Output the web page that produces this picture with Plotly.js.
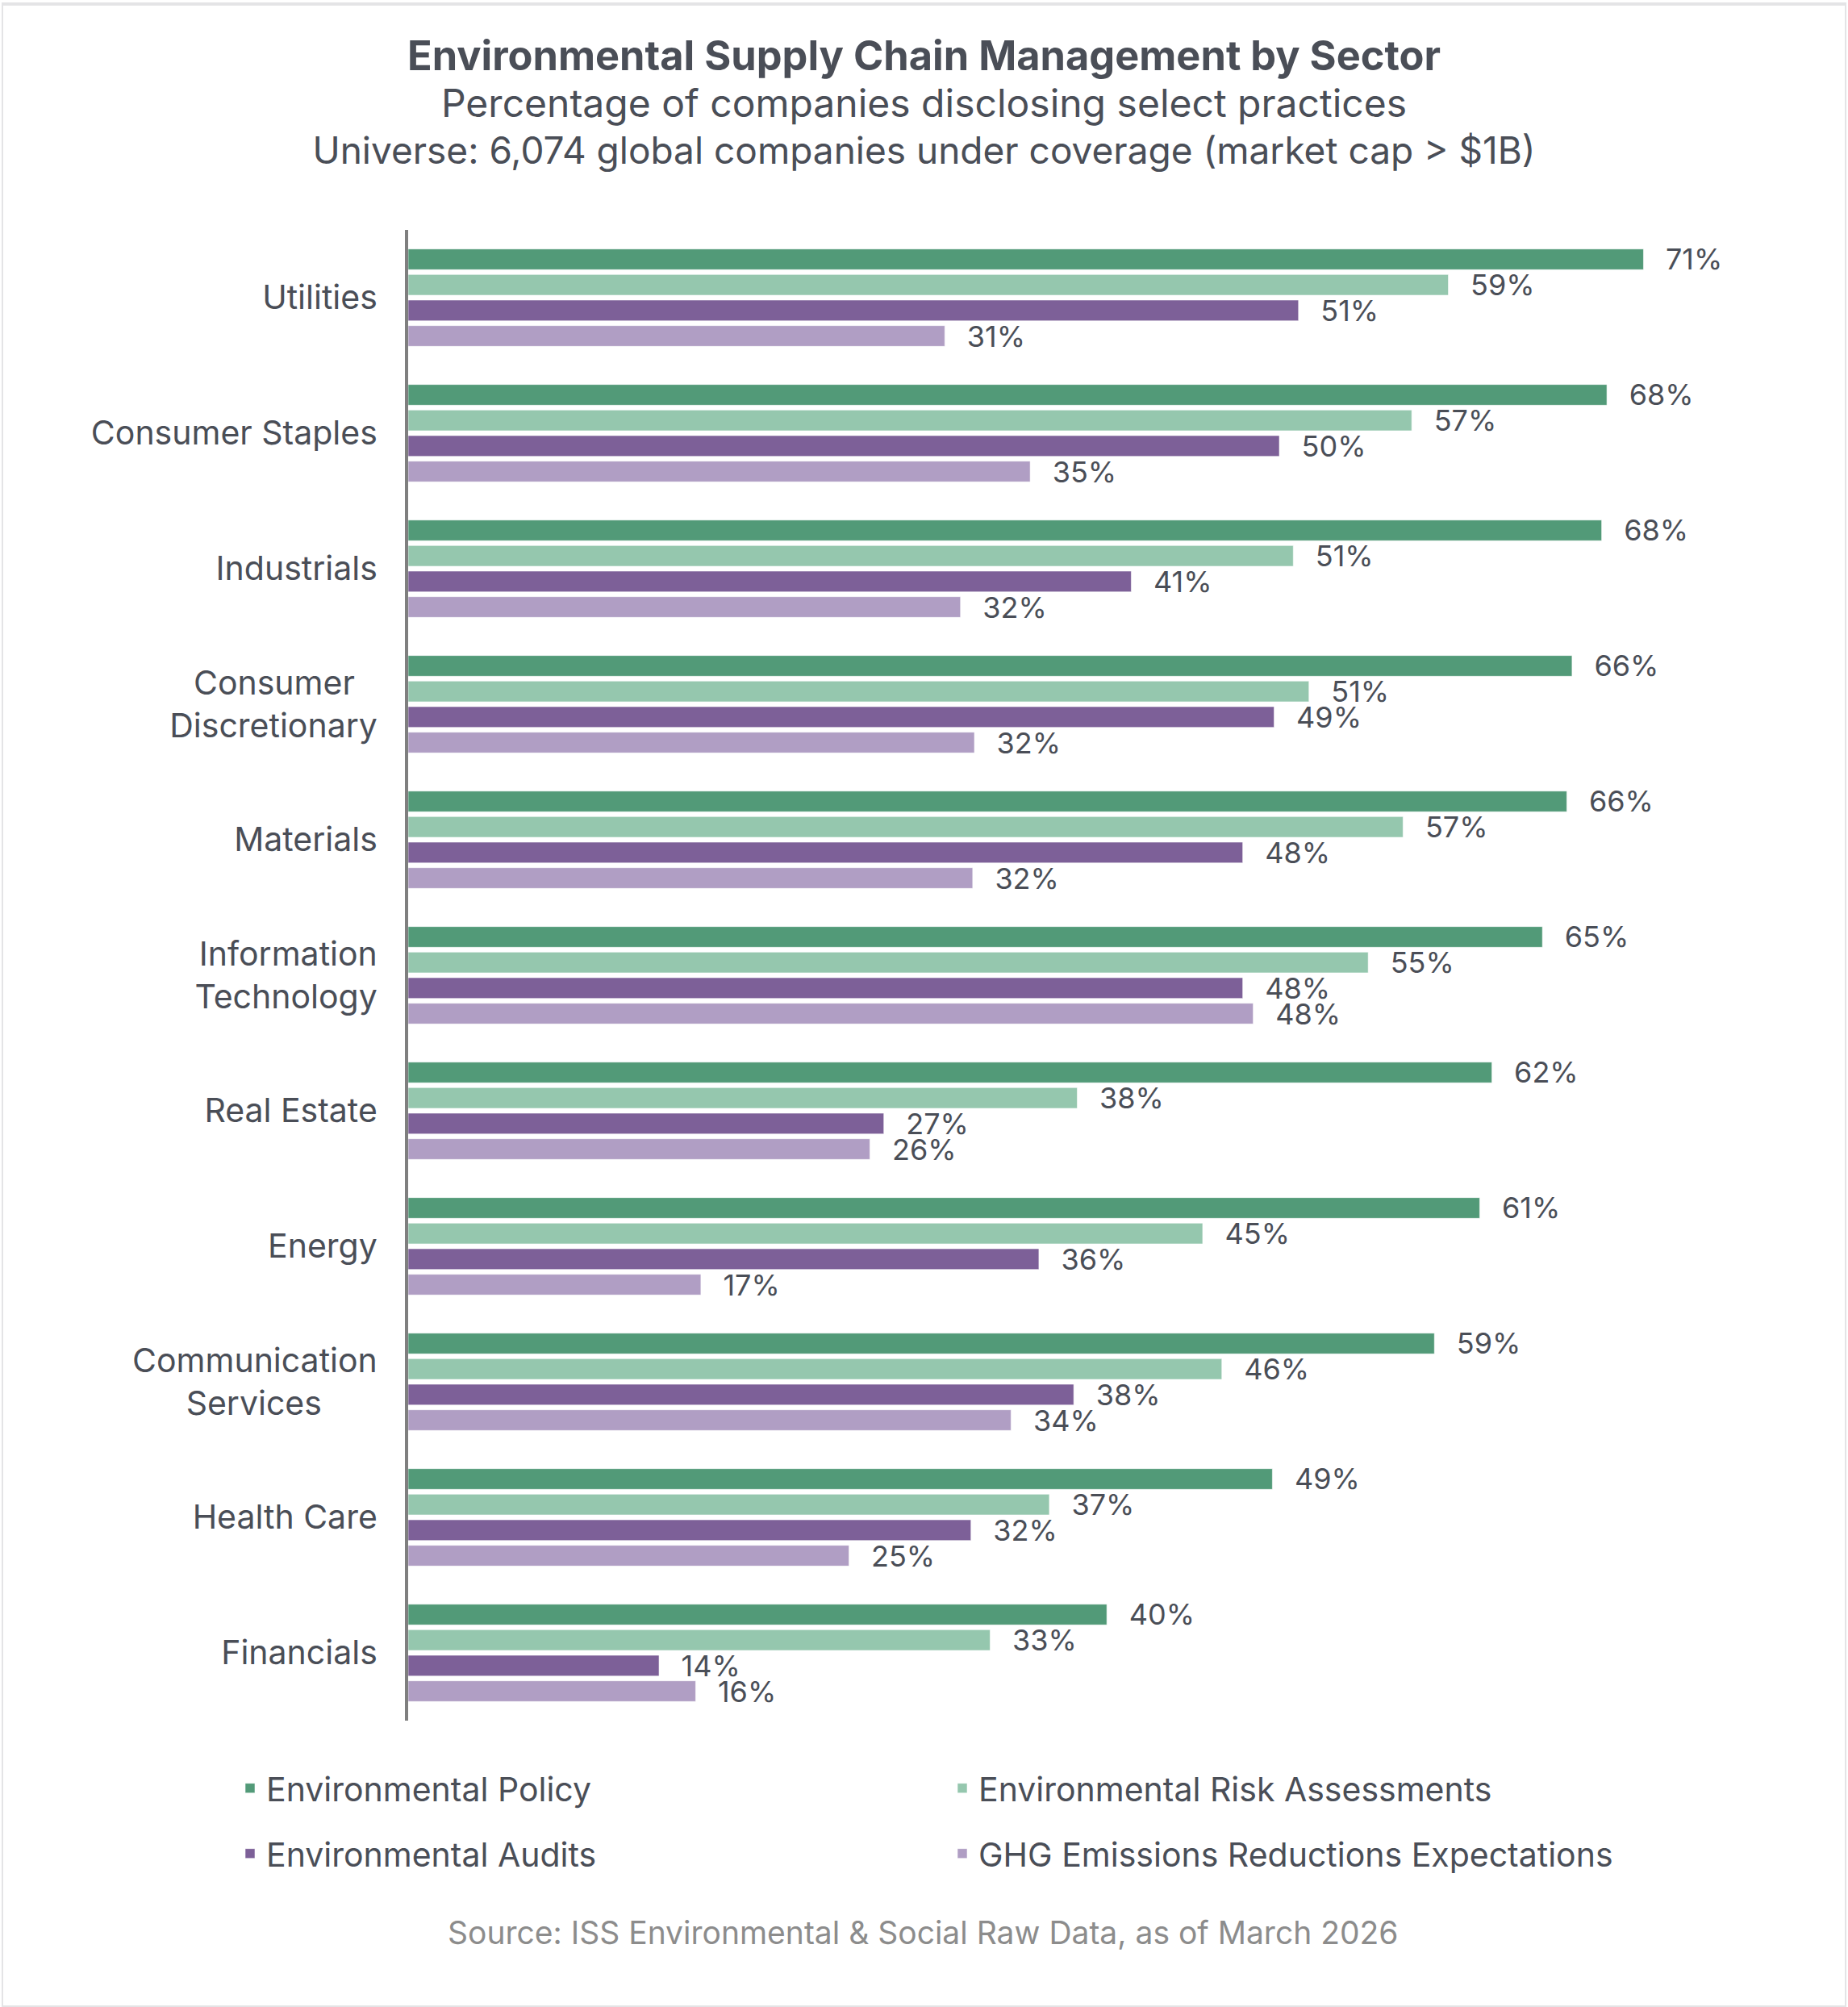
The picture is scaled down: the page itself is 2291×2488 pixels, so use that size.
<!DOCTYPE html>
<html>
<head>
<meta charset="utf-8">
<script src="https://cdn.plot.ly/plotly-3.0.1.min.js"></script>
<style>
  html, body { margin: 0; padding: 0; background: #ffffff; }
  #wrap { position: relative; width: 2291px; height: 2488px; }
  #chart { position: absolute; left: 0; top: 0; width: 2291px; height: 2488px; }
  #frame { position: absolute; left: 2px; top: 3px; width: 2283px; height: 2479px;
           border: 2px solid #e4e4e6; border-top-width: 4px; border-bottom-width: 4px; pointer-events: none; }
</style>
</head>
<body>
<div id="wrap">
  <div id="chart"></div>
  <div id="frame"></div>
</div>
<script>
// ---- data ----
const sectors = [
  "Utilities",
  "Consumer Staples",
  "Industrials",
  "Consumer\u2002\u2009<br>Discretionary",
  "Materials",
  "Information<br>Technology",
  "Real Estate",
  "Energy",
  "Communication<br>Services\u2002\u2002\u2002\u2009",
  "Health Care",
  "Financials"
];
const seriesNames = [
  "Environmental Policy",
  "Environmental Risk Assessments",
  "Environmental Audits",
  "GHG Emissions Reductions Expectations"
];
const policy = [70.9, 68.8, 68.5, 66.8, 66.5, 65.1, 62.2, 61.5, 58.9, 49.6, 40.1];
const risk   = [59.7, 57.6, 50.8, 51.7, 57.1, 55.1, 38.4, 45.6, 46.7, 36.8, 33.4];
const audits = [51.1, 50.0, 41.5, 49.7, 47.9, 47.9, 27.3, 36.2, 38.2, 32.3, 14.4];
const ghg    = [30.8, 35.7, 31.7, 32.5, 32.4, 48.5, 26.5, 16.8, 34.6, 25.3, 16.5];
const policyLabels = [71, 68, 68, 66, 66, 65, 62, 61, 59, 49, 40];
const riskLabels   = [59, 57, 51, 51, 57, 55, 38, 45, 46, 37, 33];
const auditsLabels = [51, 50, 41, 49, 48, 48, 27, 36, 38, 32, 14];
const ghgLabels    = [31, 35, 32, 32, 32, 48, 26, 17, 34, 25, 16];

const colors = ["#529a78", "#95c7ae", "#7d6098", "#b09ec4"];
const textColor = "#4a4e57";
const FONT = "Inter, 'Noto Sans', 'DejaVu Sans', sans-serif";

const values = [policy, risk, audits, ghg];
const labels = [policyLabels, riskLabels, auditsLabels, ghgLabels];
const legendIds = ["legend", "legend2", "legend3", "legend4"];

const traces = values.map((v, i) => ({
  type: "bar",
  orientation: "h",
  name: seriesNames[i],
  y: sectors,
  x: v,
  text: labels[i].map(l => "\u2002\u2009" + l + "%"),
  textposition: "outside",
  textfont: { family: FONT, size: 36, color: textColor },
  constraintext: "none",
  cliponaxis: false,
  hoverinfo: "skip",
  marker: { color: colors[i], line: { color: "rgba(255,255,255,0.55)", width: 1 } },
  legend: legendIds[i]
}));

const H = 2488, W = 2291;

function legendBox(xPx, yPx) {
  return {
    orientation: "h",
    xref: "container", yref: "container",
    x: xPx / W, xanchor: "left",
    y: 1 - yPx / H, yanchor: "middle",
    font: { family: FONT, size: 41, color: textColor },
    bgcolor: "rgba(0,0,0,0)",
    borderwidth: 0
  };
}

const layout = {
  width: W,
  height: H,
  paper_bgcolor: "#ffffff",
  plot_bgcolor: "#ffffff",
  margin: { l: 506, r: 165, t: 285, b: 355, pad: 0 },
  barmode: "group",
  bargap: 0.246,
  bargroupgap: 0.19,
  font: { family: FONT, color: textColor },
  title: {
    text: "<span style='font-size:50.5px'><b>Environmental Supply Chain Management by Sector</b></span>" +
          "<br><span style='font-size:48px'>Percentage of companies disclosing select practices</span>" +
          "<br><span style='font-size:46px'>Universe: 6,074 global companies under coverage (market cap &gt; $1B)</span>",
    font: { family: FONT, size: 44.5, color: textColor },
    x: 0.5, xanchor: "center", xref: "container",
    y: 1 - 87 / H, yanchor: "top", yref: "container"
  },
  xaxis: {
    range: [0, 75],
    visible: false,
    fixedrange: true
  },
  yaxis: {
    type: "category",
    autorange: "reversed",
    showline: true,
    linecolor: "#7f7f7f",
    linewidth: 4,
    showgrid: false,
    zeroline: false,
    ticks: "",
    ticklabelstandoff: 26,
    tickfont: { family: FONT, size: 41, color: textColor },
    fixedrange: true
  },
  showlegend: true,
  legend: legendBox(290, 2217),
  legend2: legendBox(1173, 2217),
  legend3: legendBox(290, 2298),
  legend4: legendBox(1173, 2298),
  annotations: [{
    text: "Source: ISS Environmental &amp; Social Raw Data, as of March 2026",
    xref: "paper", yref: "paper",
    x: (1144 - 506) / (W - 506 - 165), xanchor: "center",
    y: (2133 - 2395) / (2133 - 285), yanchor: "middle",
    showarrow: false,
    font: { family: FONT, size: 39, color: "#8c8c8c" }
  }]
};

Plotly.newPlot("chart", traces, layout, { displayModeBar: false, staticPlot: true });
</script>
</body>
</html>
